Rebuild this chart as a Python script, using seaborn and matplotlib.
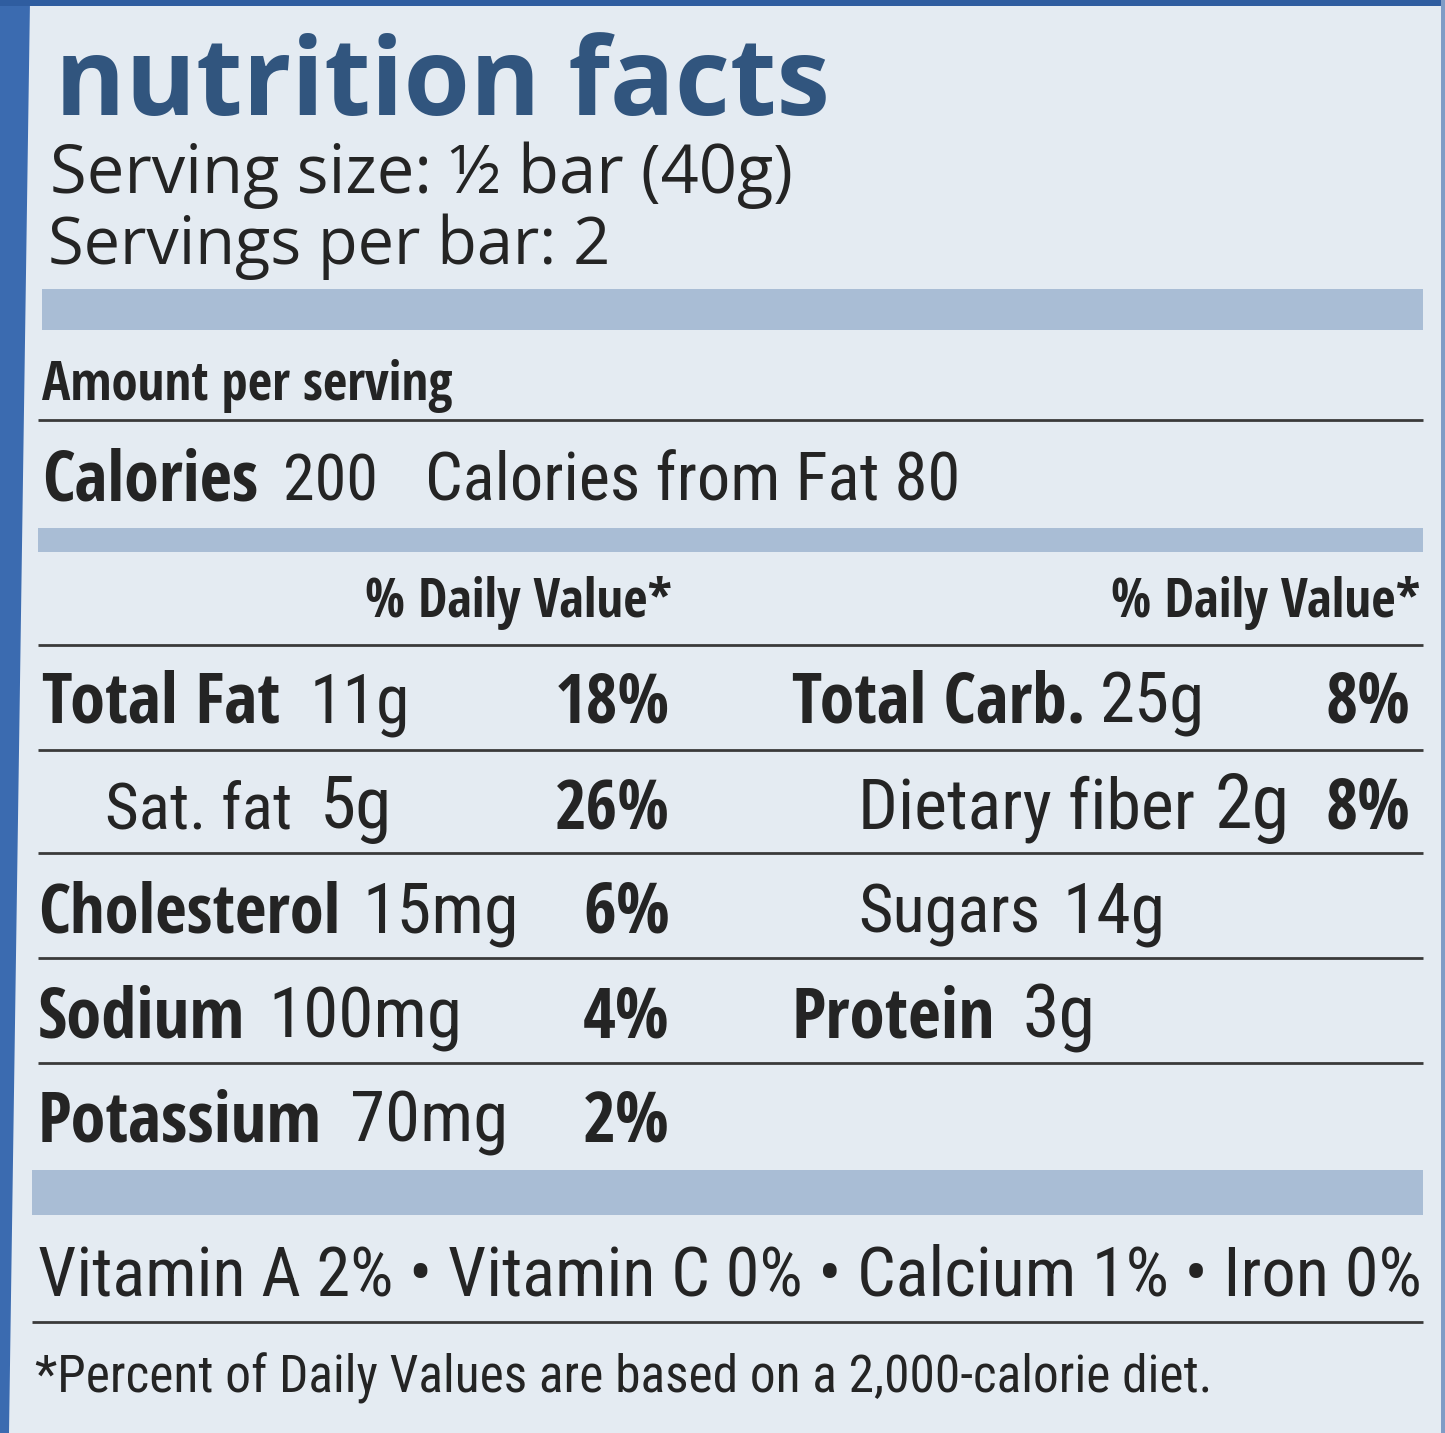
import matplotlib
matplotlib.use("Agg")
import matplotlib.pyplot as plt
from matplotlib import font_manager as fm
from matplotlib.patches import Rectangle, Polygon
import seaborn as sns

# ---------------- data ----------------
title = "nutrition facts"
serving_size = "½ bar (40g)"
servings_per_bar = 2
calories = 200
calories_from_fat = 80

left_names = ["Total Fat", "Sat. fat", "Cholesterol", "Sodium", "Potassium"]
left_amounts = ["11g", "5g", "15mg", "100mg", "70mg"]
left_dv = [18, 26, 6, 4, 2]
left_bold = [True, False, True, True, True]

right_names = ["Total Carb.", "Dietary fiber", "Sugars", "Protein"]
right_amounts = ["25g", "2g", "14g", "3g"]
right_dv = [8, 8, None, None]
right_bold = [True, False, False, True]

vitamins = ["Vitamin A", "Vitamin C", "Calcium", "Iron"]
vitamin_dv = [2, 0, 1, 0]
footnote = "*Percent of Daily Values are based on a 2,000-calorie diet."

# ---------------- style ----------------
sns.set_theme(style="white")
BG = "#e4ebf2"
BAND = "#a9bdd5"
TXT = "#242424"
TITLE = "#31557e"
EDGE = "#3b6bb0"
LINE = "#3a3a3a"


def weight_of(e):
    try:
        return int(e.weight)
    except Exception:
        return {"bold": 700, "normal": 400, "regular": 400, "medium": 500,
                "light": 300, "semibold": 600}.get(str(e.weight).lower(), 400)


def find_font(target):
    fams = ["Open Sans", "Noto Sans", "Roboto", "DejaVu Sans", "Liberation Sans Narrow", "Lato", "Inter"]
    best = None
    for e in fm.fontManager.ttflist:
        name = e.name
        is_cond = (e.stretch in ("condensed", "semi-condensed", "extra-condensed")
                   or "Condensed" in name or "Narrow" in name
                   or "ondensed" in e.fname or "Narrow" in e.fname)
        if not is_cond or e.style != "normal":
            continue
        rank = 99
        for i, f in enumerate(fams):
            if name.startswith(f):
                rank = i
                break
        score = (abs(weight_of(e) - target), rank)
        if best is None or score < best[0]:
            best = (score, e.fname)
    if best is None or best[0][0] > 150:
        return None
    return best[1]


def props(target):
    f = find_font(target)
    if f:
        return fm.FontProperties(fname=f)
    return fm.FontProperties(family="Roboto", weight="bold" if target >= 600 else "normal")


FP_R = props(400)
FP_B = props(700)
FP_N = fm.FontProperties(family="Open Sans", weight="normal")
FP_T = fm.FontProperties(family="Open Sans", weight="bold")

fig = plt.figure(figsize=(14.45, 14.33), dpi=100)
fig.patch.set_facecolor(BG)
ax = fig.add_axes([0, 0, 1, 1])
ax.set_xlim(0, 1445)
ax.set_ylim(1433, 0)
ax.axis("off")
ax.set_facecolor(BG)
fig.canvas.draw()
R = fig.canvas.get_renderer()


def put(x, y, s, w, cap, fp, ha="left", color=TXT):
    t = ax.text(x, y, s, fontproperties=fp, fontsize=40, ha=ha, va="baseline", color=color)
    bb = t.get_window_extent(R)
    fs_w = 40 * w / bb.width
    fs_h = cap / 0.71 * 0.72
    t.set_fontsize(min(fs_w, fs_h * 1.12))
    return t


# edges of the label
ax.add_patch(Polygon([(0, 0), (30, 0), (9, 1433), (0, 1433)], closed=True, color=EDGE, lw=0))
ax.add_patch(Rectangle((0, 0), 1445, 6, color="#2f5da0", lw=0))
ax.add_patch(Rectangle((1441, 0), 4, 1433, color="#7f9cc6", lw=0))

# bands and rules
for y0, y1, x0 in [(289, 330, 42), (528, 552, 38), (1170, 1215, 32)]:
    ax.add_patch(Rectangle((x0, y0), 1423 - x0, y1 - y0, color=BAND, lw=0))
for y in [420, 645, 750, 853, 958, 1063]:
    ax.plot([38, 1423], [y, y], color=LINE, lw=2.0, solid_capstyle="butt")
ax.plot([32, 1423], [1322, 1322], color=LINE, lw=2.0, solid_capstyle="butt")

# header
put(55, 115, title, 797, 68, FP_T, color=TITLE)
put(50, 193, f"Serving size: {serving_size}", 742, 49, FP_N)
put(48, 264, f"Servings per bar: {servings_per_bar}", 562, 49, FP_N)
put(42, 400, "Amount per serving", 410, 38, FP_B)

put(42, 500, "Calories", 216, 52, FP_B)
put(283, 500, f"{calories}", 95, 52, FP_R)
put(425, 500, f"Calories from Fat {calories_from_fat}", 535, 52, FP_R)

put(672, 617, "% Daily Value*", 307, 38, FP_B, ha="right")
put(1420, 617, "% Daily Value*", 310, 38, FP_B, ha="right")

# left column rows
row_base = [722, 828, 932, 1037, 1142]
left_name_x = [(42, 238), (105, 187), (38, 302), (38, 207), (38, 284)]
left_amt_x = [(310, 100), (320, 72), (362, 156), (268, 194), (350, 158)]
for i, name in enumerate(left_names):
    fp = FP_B if left_bold[i] else FP_R
    x, w = left_name_x[i]
    put(x, row_base[i], name, w, 58, fp)
    ax_, aw = left_amt_x[i]
    put(ax_, row_base[i], left_amounts[i], aw, 58, FP_R)
    s = f"{left_dv[i]}%"
    put(670, row_base[i], s, 115 if left_dv[i] >= 10 else 87, 58, FP_B, ha="right")

# right column rows
right_name_x = [(792, 293), (858, 337), (858, 182), (792, 203)]
right_amt_x = [(1100, 105), (1215, 75), (1062, 103), (1022, 73)]
for i, name in enumerate(right_names):
    fp = FP_B if right_bold[i] else FP_R
    x, w = right_name_x[i]
    put(x, row_base[i], name, w, 58, fp)
    ax_, aw = right_amt_x[i]
    put(ax_, row_base[i], right_amounts[i], aw, 58, FP_R)
    if right_dv[i] is not None:
        put(1410, row_base[i], f"{right_dv[i]}%", 85, 58, FP_B, ha="right")

# vitamins
vit = " • ".join(f"{n} {v}%" for n, v in zip(vitamins, vitamin_dv))
put(38, 1295, vit, 1382, 58, FP_R)

put(35, 1392, footnote, 1177, 45, FP_R)

fig.savefig("out.png", dpi=100, facecolor=BG)
